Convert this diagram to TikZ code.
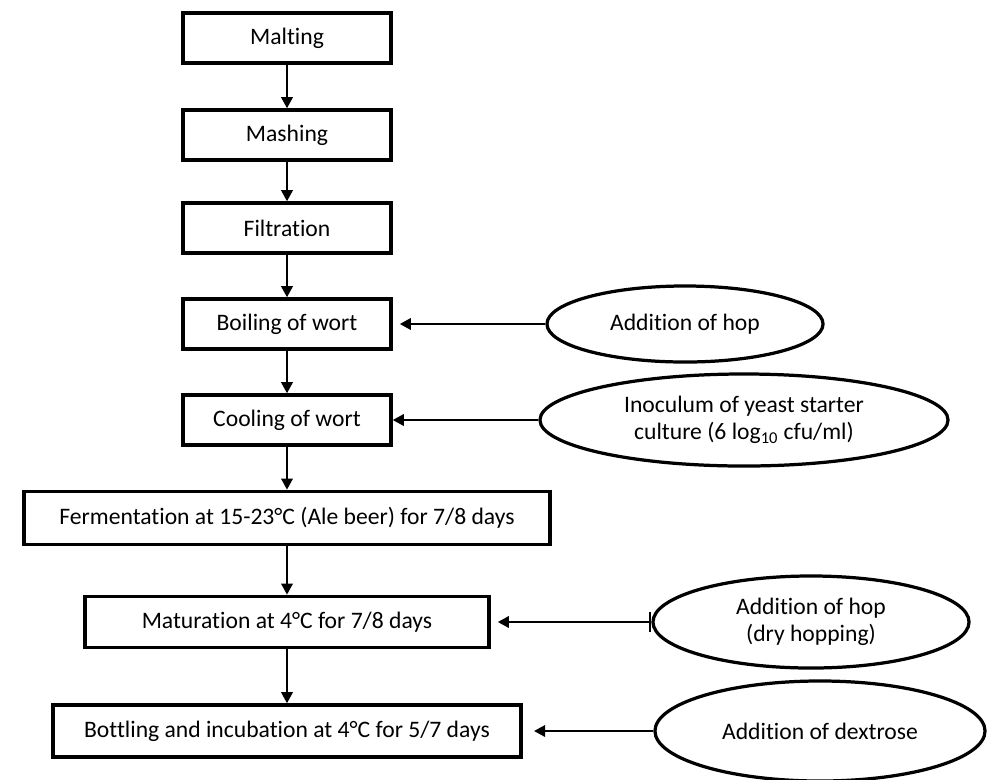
\documentclass[tikz,border=0pt]{standalone}
\usepackage{fontspec}
\setmainfont{Carlito}[Ligatures=NoCommon]
\usepackage{xcolor}
\definecolor{flowblack}{RGB}{0,0,0}
\usetikzlibrary{arrows.meta, shapes.geometric}

\begin{document}
\begin{tikzpicture}[x=0.025cm, y=-0.025cm,
  stepbox/.style={draw=flowblack, line width=2.3pt, rectangle, inner sep=0pt,
    minimum height=1.25cm, align=center, font=\fontsize{16.8}{19.5}\selectfont},
  addbubble/.style={draw=flowblack, line width=2.3pt, ellipse, inner sep=0pt,
    align=center, font=\fontsize{16.8}{19.5}\selectfont},
  flowarrow/.style={-{Triangle[length=8pt, width=8pt]}, line width=2pt, flowblack},
  feedarrow/.style={-{Triangle[length=8pt, width=8pt]}, line width=2pt, flowblack}]

% background / page size
\fill[white] (0,0) rectangle (1000,779);
\useasboundingbox (0,0) rectangle (1000,779);

% --- Main process column ---
\node[stepbox, minimum width=5.2cm] (malting) at (287,38) {Malting};
\node[stepbox, minimum width=5.2cm] (mashing) at (287,135) {Mashing};
\node[stepbox, minimum width=5.2cm] (filtration) at (287,228) {Filtration};
\node[stepbox, minimum width=5.2cm] (boiling) at (287,324) {Boiling of wort};
\node[stepbox, minimum width=5.2cm] (cooling) at (287,420) {Cooling of wort};
\node[stepbox, minimum width=13.15cm, minimum height=1.33cm] (fermentation) at (287,518)
      {Fermentation at 15-23°C (Ale beer) for 7/8 days};
\node[stepbox, minimum width=10.1cm, minimum height=1.28cm] (maturation) at (287,622)
      {Maturation at 4°C for 7/8 days};
\node[stepbox, minimum width=11.7cm, minimum height=1.3cm] (bottling) at (287,731)
      {Bottling and incubation at 4°C for 5/7 days};

% Arrows down the column
\draw[flowarrow] (malting) -- (mashing);
\draw[flowarrow] (mashing) -- (filtration);
\draw[flowarrow] (filtration) -- (boiling);
\draw[flowarrow] (boiling) -- (cooling);
\draw[flowarrow] (cooling) -- (fermentation);
\draw[flowarrow] (fermentation) -- (maturation);
\draw[flowarrow] (maturation) -- (bottling);

% --- Additions (ellipses) ---
\node[addbubble, minimum width=6.9cm, minimum height=1.9cm] (hop) at (685,324) {Addition of hop};
\node[addbubble, minimum width=10.2cm, minimum height=2.3cm] (yeast) at (744,420)
      {Inoculum of yeast starter\\culture (6 log\textsubscript{10} cfu/ml)};
\node[addbubble, minimum width=7.9cm, minimum height=2.3cm] (dryhop) at (811,622)
      {Addition of hop\\(dry hopping)};
\node[addbubble, minimum width=8.25cm, minimum height=2.5cm] (dextrose) at (820,731)
      {Addition of dextrose};

% Arrows into the column
\draw[feedarrow, shorten >=5pt] (hop) -- (boiling);
\draw[feedarrow] (yeast) -- (cooling);
\draw[feedarrow, shorten >=5pt, {Bar[width=14pt]}-{Triangle[length=8pt, width=8pt]}] (dryhop) -- (maturation);
\draw[feedarrow, shorten >=8pt] (dextrose) -- (bottling);

\end{tikzpicture}
\end{document}
